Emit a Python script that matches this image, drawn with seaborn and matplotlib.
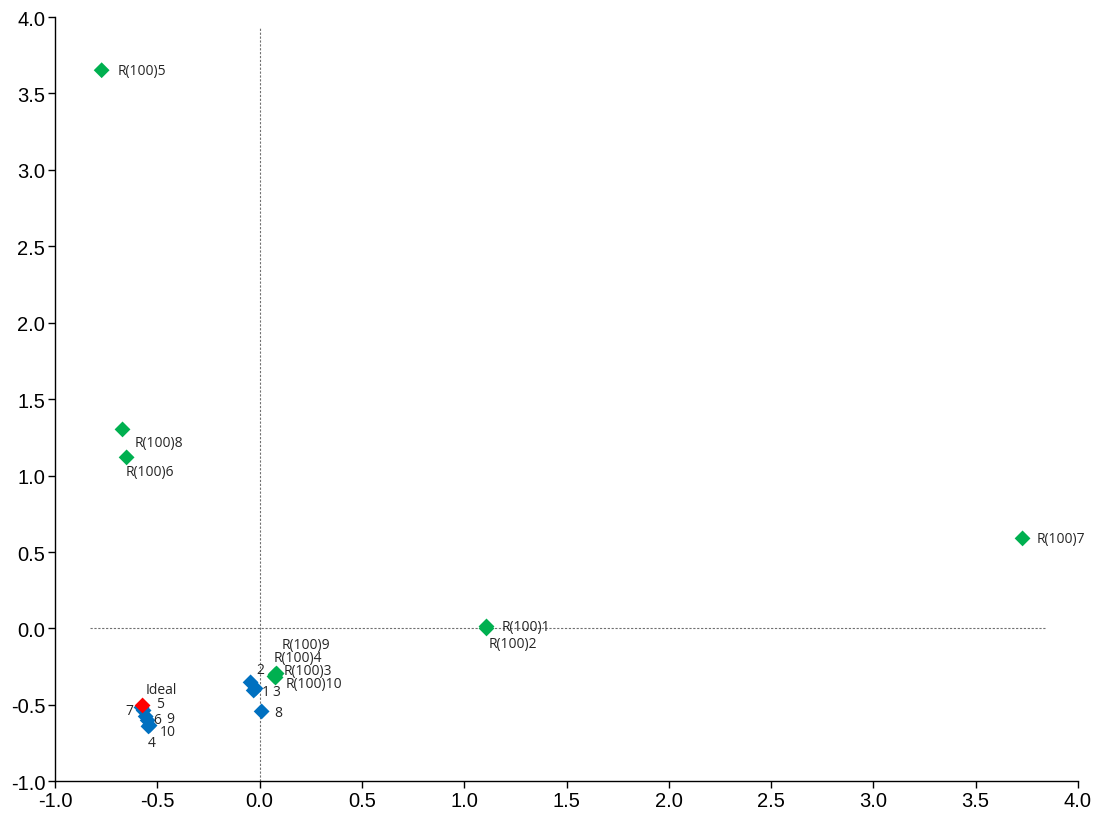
import pandas as pd
import numpy as np
import matplotlib
matplotlib.use("Agg")
import matplotlib.pyplot as plt
import seaborn as sns

# Point data
ideal_label = ["Ideal"]
ideal_x = [-0.572]
ideal_y = [-0.504]

panel_labels = ["1", "2", "3", "4", "5", "6", "7", "8", "9", "10"]
panel_x = [-0.029, -0.044, -0.020, -0.543, -0.567, -0.557, -0.577, 0.010, -0.547, -0.538]
panel_y = [-0.406, -0.353, -0.393, -0.641, -0.537, -0.576, -0.517, -0.543, -0.602, -0.635]

ref_labels = ["R(100)1", "R(100)2", "R(100)3", "R(100)4", "R(100)5",
              "R(100)6", "R(100)7", "R(100)8", "R(100)9", "R(100)10"]
ref_x = [1.109, 1.109, 0.078, 0.073, -0.772, -0.650, 3.729, -0.670, 0.083, 0.078]
ref_y = [0.013, 0.000, -0.301, -0.314, 3.652, 1.119, 0.589, 1.302, -0.295, -0.321]

# label offsets in pixels (dx, dy), style only
offsets = {
    "1": (8, -1), "2": (6, 13), "3": (17, -3), "4": (-1, -16), "5": (12, 7),
    "6": (8, -3), "7": (-8, -3), "8": (13, -1), "9": (19, 2), "10": (10, -6),
    "Ideal": (3, 16),
    "R(100)1": (15, 0), "R(100)2": (2, -15), "R(100)3": (8, 4), "R(100)4": (-1, 19),
    "R(100)5": (16, 0), "R(100)6": (-1, -14), "R(100)7": (14, 0), "R(100)8": (12, -13),
    "R(100)9": (5, 29), "R(100)10": (10, -6),
}

df = pd.concat([
    pd.DataFrame({"x": ref_x, "y": ref_y, "label": ref_labels, "group": "ref"}),
    pd.DataFrame({"x": panel_x, "y": panel_y, "label": panel_labels, "group": "panel"}),
    pd.DataFrame({"x": ideal_x, "y": ideal_y, "label": ideal_label, "group": "ideal"}),
], ignore_index=True)

sns.set_style("white")
plt.rcParams['font.family'] = ['Liberation Sans', 'DejaVu Sans']

fig = plt.figure(figsize=(11, 8.2), dpi=100)
ax = fig.add_axes([0.05, 0.046, 0.93, 0.932])

# dashed reference lines through origin
ax.plot([0, 0], [-1.0, 3.93], ls=(0, (2, 1.5)), color="#707070", lw=0.8, zorder=1)
ax.plot([-0.83, 3.84], [0, 0], ls=(0, (2, 1.5)), color="#707070", lw=0.8, zorder=1)

palette = {"ref": "#00B050", "panel": "#0070C0", "ideal": "#FF0000"}
sns.scatterplot(data=df, x="x", y="y", hue="group", palette=palette, marker="D",
                s=65, edgecolor="none", legend=False, ax=ax, zorder=3)

for _, row in df.iterrows():
    dx, dy = offsets[row["label"]]
    ha = "right" if row["label"] == "7" else "left"
    ax.annotate(row["label"], (row["x"], row["y"]), xytext=(dx, dy),
                textcoords="offset pixels", ha=ha, va="center",
                fontsize=10, color="#262626", family=["Open Sans", "DejaVu Sans"])

ax.set_xlim(-1.0, 4.0)
ax.set_ylim(-1.0, 4.0)
ax.set_xticks(np.arange(-1.0, 4.01, 0.5))
ax.set_yticks(np.arange(-1.0, 4.01, 0.5))
ax.xaxis.set_major_formatter(matplotlib.ticker.FormatStrFormatter("%.1f"))
ax.yaxis.set_major_formatter(matplotlib.ticker.FormatStrFormatter("%.1f"))
ax.tick_params(axis="both", direction="out", length=5, width=1, color="black",
               labelsize=14.5, labelcolor="black", bottom=True, left=True, pad=2)
ax.set_xlabel("")
ax.set_ylabel("")
sns.despine(ax=ax)
for s in ["left", "bottom"]:
    ax.spines[s].set_color("black")
    ax.spines[s].set_linewidth(1)

fig.savefig("out.png", dpi=100)
